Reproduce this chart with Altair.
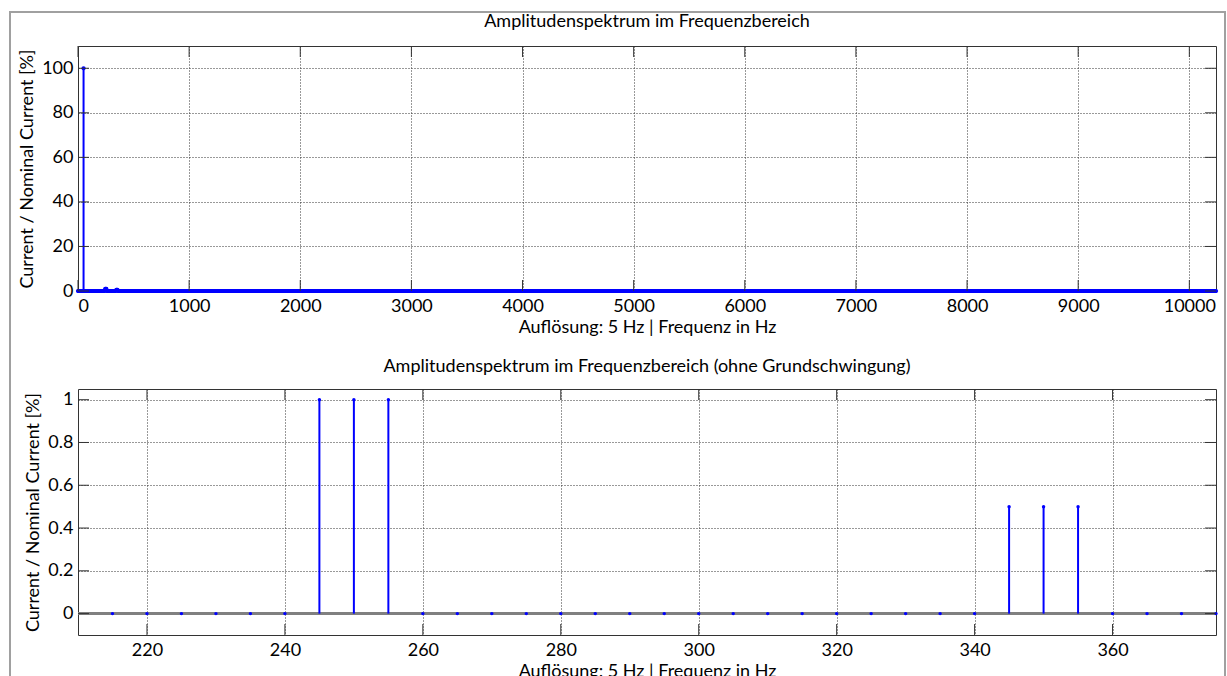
import altair as alt
import pandas as pd

# ---------------- data ----------------
# top spectrum: 5 Hz resolution from 0 to 10240 Hz, zero except the peaks below
top_step = 5
top_fmax = 10240
top_peak_freqs = [50, 245, 250, 255, 345, 350, 355]
top_peak_values = [100.0, 1.0, 1.0, 1.0, 0.5, 0.5, 0.5]
top_freqs = list(range(0, top_fmax + 1, top_step))
_peaks = dict(zip(top_peak_freqs, top_peak_values))
top_values = [_peaks.get(f, 0.0) for f in top_freqs]

# bottom spectrum (without fundamental)
bot_freqs = [215, 220, 225, 230, 235, 240, 245, 250, 255, 260, 265, 270, 275, 280,
             285, 290, 295, 300, 305, 310, 315, 320, 325, 330, 335, 340, 345, 350,
             355, 360, 365, 370, 375]
bot_values = [0, 0, 0, 0, 0, 0, 1, 1, 1, 0, 0, 0, 0, 0,
              0, 0, 0, 0, 0, 0, 0, 0, 0, 0, 0, 0, 0.5, 0.5,
              0.5, 0, 0, 0, 0]

top_xticks = [0, 1000, 2000, 3000, 4000, 5000, 6000, 7000, 8000, 9000, 10000]
top_yticks = [0, 20, 40, 60, 80, 100]
bot_xticks = [220, 240, 260, 280, 300, 320, 340, 360]
bot_yticks = [0, 0.2, 0.4, 0.6, 0.8, 1]

top_title = "Amplitudenspektrum im Frequenzbereich"
bot_title = "Amplitudenspektrum im Frequenzbereich (ohne Grundschwingung)"
x_title = "Auflösung: 5 Hz | Frequenz in Hz"
y_title = "Current / Nominal Current [%]"

# ---------------- style ----------------
W = 1138
H_TOP = 245
H_BOT = 246
BLUE = "#0000ff"
TICK = "#333333"
FONT = "Lato"
TICKLEN = 11


def panel(freqs, values, xdom, ydom, xticks, yticks, height, title, xfmt, yfmt,
          title_y, pt_size, frame=False):
    df = pd.DataFrame({"f": freqs, "a": values})
    xs = alt.Scale(domain=xdom, nice=False, zero=False)
    ys = alt.Scale(domain=ydom, nice=False, zero=False)

    x_axis = alt.Axis(values=xticks, format=xfmt, title=x_title, ticks=False,
                      domain=False, grid=True, gridDash=[1, 2], gridColor="#333333",
                      labelPadding=6, titlePadding=3)
    y_axis = alt.Axis(values=yticks, format=yfmt, title=y_title, ticks=False,
                      domain=False, grid=True, gridDash=[1, 2], gridColor="#333333",
                      labelPadding=5, titlePadding=5)

    def X(field):
        return alt.X(field, scale=xs, axis=x_axis)

    def Y(field):
        return alt.Y(field, scale=ys, axis=y_axis)

    base = alt.Chart(df)
    stems = base.mark_rule(color=BLUE, strokeWidth=2).encode(
        x=X("f:Q"), y=Y("a:Q"), y2=alt.datum(0))
    baseline = base.mark_rule(color="#808080", strokeWidth=2).encode(
        y=alt.datum(0, scale=ys, axis=y_axis), x=alt.value(0), x2=alt.value(W))
    pts = base.mark_circle(color=BLUE, size=pt_size, opacity=1).encode(
        x=X("f:Q"), y=Y("a:Q"))

    xt = alt.Chart(pd.DataFrame({"f": xticks}))
    yt = alt.Chart(pd.DataFrame({"a": yticks}))
    tb = xt.mark_rule(color=TICK, strokeWidth=1).encode(
        x=X("f:Q"), y=alt.value(height), y2=alt.value(height - TICKLEN))
    tt = xt.mark_rule(color=TICK, strokeWidth=1).encode(
        x=X("f:Q"), y=alt.value(0), y2=alt.value(TICKLEN))
    tl = yt.mark_rule(color=TICK, strokeWidth=1).encode(
        y=Y("a:Q"), x=alt.value(0), x2=alt.value(TICKLEN))
    tr = yt.mark_rule(color=TICK, strokeWidth=1).encode(
        y=Y("a:Q"), x=alt.value(W - TICKLEN), x2=alt.value(W))

    ttl = alt.Chart(pd.DataFrame({"s": [title]})).mark_text(
        font=FONT, fontSize=18, color="black", align="center", baseline="alphabetic"
    ).encode(text="s:N", x=alt.value(W / 2), y=alt.value(title_y))

    layers = [baseline, stems, pts, tb, tt, tl, tr, ttl]
    if frame:
        fr = alt.Chart(pd.DataFrame({"k": [0]})).mark_rect(
            fill=None, stroke="#a0a0a0", strokeWidth=2
        ).encode(x=alt.value(-68), x2=alt.value(1147), y=alt.value(-34), y2=alt.value(660))
        layers = layers + [fr]
    return alt.layer(*layers).properties(width=W, height=height)


top = panel(top_freqs, top_values, [0, 10240], [0, 110], top_xticks, top_yticks,
            H_TOP, top_title, "d", "d", -19, 18, frame=True)
bot = panel(bot_freqs, bot_values, [210, 375], [-0.1, 1.05], bot_xticks, bot_yticks,
            H_BOT, bot_title, "d", "~g", -17, 12)

chart = alt.vconcat(top, bot, spacing=98, bounds="flush").properties(
    padding={"left": 8, "top": 10, "right": 0, "bottom": 0},
    background="white",
).configure_view(stroke="#333333", strokeWidth=1).configure_axis(
    labelFont=FONT, labelFontSize=18, labelColor="black",
    titleFont=FONT, titleFontSize=18, titleFontWeight="normal", titleColor="black",
)

chart.save("out.html", embed_options={"renderer": "svg", "actions": False})
